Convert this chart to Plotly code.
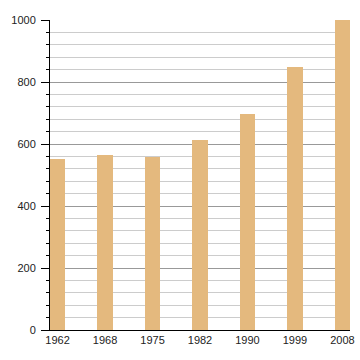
import plotly.graph_objects as go

years = ["1962", "1968", "1975", "1982", "1990", "1999", "2008"]
population = [552, 565, 559, 614, 698, 849, 1000]

bar_color = "#E4B97E"

fig = go.Figure(
    go.Bar(
        x=years,
        y=population,
        marker=dict(color=bar_color, line=dict(width=0)),
        width=0.32,
    )
)

fig.update_layout(
    width=360,
    height=360,
    margin=dict(l=50, r=10, t=20, b=30),
    paper_bgcolor="white",
    plot_bgcolor="white",
    showlegend=False,
    font=dict(family="Liberation Sans, Arial, sans-serif", size=11, color="#222222"),
    bargap=0,
)

fig.update_xaxes(
    type="category",
    range=[-0.16, 6.16],
    automargin=False,
    showgrid=False,
    showline=True,
    linecolor="black",
    linewidth=1,
    ticks="",
    tickfont=dict(size=11),
    ticklabeloverflow="allow",
    fixedrange=True,
)

fig.update_yaxes(
    range=[0, 1000],
    automargin=False,
    tickvals=[0, 200, 400, 600, 800, 1000],
    showgrid=True,
    gridcolor="#999999",
    gridwidth=1,
    showline=True,
    linecolor="black",
    linewidth=1,
    ticks="outside",
    ticklen=8,
    tickcolor="black",
    tickfont=dict(size=11),
    ticklabelstandoff=3,
    zeroline=False,
    minor=dict(
        dtick=40,
        showgrid=True,
        gridcolor="#cccccc",
        gridwidth=1,
        ticks="outside",
        ticklen=3,
        tickcolor="black",
    ),
    fixedrange=True,
)

fig.write_html(
    "out.html",
    config={"displayModeBar": False},
    post_script="document.body.style.margin='0';document.body.style.overflow='hidden';",
)
